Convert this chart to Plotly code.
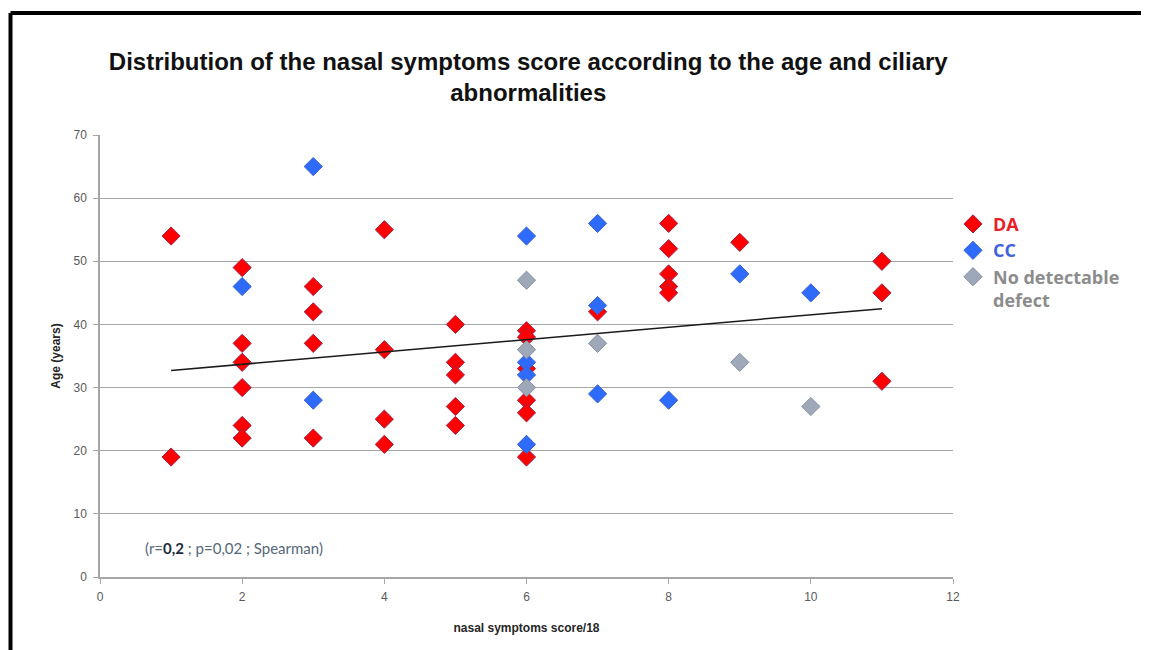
import plotly.graph_objects as go

# ---- data ----
da_score = [1, 1, 2, 2, 2, 2, 2, 2, 3, 3, 3, 3, 4, 4, 4, 4, 5, 5, 5, 5, 5,
            6, 6, 6, 6, 6, 6, 7, 8, 8, 8, 8, 8, 9, 11, 11, 11]
da_age = [54, 19, 49, 37, 34, 30, 24, 22, 46, 42, 37, 22, 55, 36, 25, 21, 40, 34, 32, 27, 24,
          39, 38, 33, 28, 26, 19, 42, 56, 52, 48, 46, 45, 53, 50, 45, 31]

cc_score = [2, 3, 3, 6, 6, 6, 6, 7, 7, 7, 8, 9, 10]
cc_age = [46, 65, 28, 54, 34, 32, 21, 56, 43, 29, 28, 48, 45]

nd_score = [6, 6, 6, 7, 9, 10]
nd_age = [47, 36, 30, 37, 34, 27]

trend_score = [1, 11]
trend_age = [32.7, 42.5]

x_ticks = [0, 2, 4, 6, 8, 10, 12]
y_ticks = [0, 10, 20, 30, 40, 50, 60, 70]

SANS = "Liberation Sans, Arial, sans-serif"
LEG = "Open Sans, sans-serif"

W, H = 1141, 642
L, T, PW, PH = 92, 127, 853, 442

fig = go.Figure()

fig.add_trace(go.Scatter(
    x=da_score, y=da_age, mode="markers",
    name='<span style="color:#E8202A"><b>DA</b></span>',
    marker=dict(symbol="diamond", size=14, color="#FF0000",
                line=dict(color="#9B2850", width=1)),
))
fig.add_trace(go.Scatter(
    x=cc_score, y=cc_age, mode="markers",
    name='<span style="color:#3F63D8"><b>CC</b></span>',
    marker=dict(symbol="diamond", size=14, color="#2F6BFA",
                line=dict(color="#3A62D0", width=1)),
))
fig.add_trace(go.Scatter(
    x=nd_score, y=nd_age, mode="markers",
    name='<span style="color:#8C8C8C"><b>No detectable<br>defect</b></span>',
    marker=dict(symbol="diamond", size=14, color="#9EA8B9",
                line=dict(color="#8590A2", width=1)),
))
fig.add_trace(go.Scatter(
    x=trend_score, y=trend_age, mode="lines",
    line=dict(color="#1A1A1A", width=1.5),
    showlegend=False, hoverinfo="skip",
))

fig.update_layout(
    width=W, height=H,
    margin=dict(l=L, r=W - L - PW, t=T, b=H - T - PH),
    paper_bgcolor="white", plot_bgcolor="white",
    title=dict(
        text="<b>Distribution of the nasal symptoms score according to the age and ciliary<br>abnormalities</b>",
        x=0.456, xanchor="center", xref="container",
        y=0.903, yanchor="top", yref="container",
        font=dict(family=SANS, size=24, color="#111111", lineposition="none"),
    ),
    legend=dict(
        x=1.0, xanchor="left", y=0.84, yanchor="top",
        font=dict(family=LEG, size=18),
        valign="top", itemwidth=30,
        tracegroupgap=0,
        bgcolor="rgba(0,0,0,0)",
    ),
    showlegend=True,
    xaxis=dict(
        range=[0, 12], tickvals=x_ticks, ticktext=[str(v) for v in x_ticks],
        showgrid=False, zeroline=False,
        showline=True, linecolor="#A6A6A6", linewidth=1.5,
        ticks="outside", ticklen=5, tickcolor="#A6A6A6",
        ticklabelstandoff=3,
        tickfont=dict(family=SANS, size=12, color="#595959"),
        title=dict(text="<b>nasal symptoms score/18</b>",
                   font=dict(family=SANS, size=12, color="#262626"),
                   standoff=20),
    ),
    yaxis=dict(
        range=[0, 70], tickvals=y_ticks, ticktext=[str(v) for v in y_ticks],
        showgrid=True, gridcolor="#A6A6A6", gridwidth=1.3, zeroline=False,
        showline=True, linecolor="#A6A6A6", linewidth=1.5,
        ticks="outside", ticklen=5, tickcolor="#A6A6A6",
        ticklabelstandoff=4,
        tickfont=dict(family=SANS, size=12, color="#595959"),
        title=dict(text="<b>Age (years)</b>",
                   font=dict(family=SANS, size=12, color="#262626"),
                   standoff=10),
    ),
    annotations=[dict(
        xref="paper", yref="paper", x=0.05, y=0.065, xanchor="left", yanchor="middle",
        text='(r=<b><span style="color:#1E2B3A">0,2</span></b> ; p=0,02 ; Spearman)',
        showarrow=False,
        font=dict(family="Lato, sans-serif", size=15, color="#56687A"),
    )],
    shapes=[
        dict(type="line", xref="paper", yref="paper",
             x0=(2.5 - L) / PW, x1=(W - L) / PW + 0.01,
             y0=(T + PH - 5) / PH, y1=(T + PH - 5) / PH,
             line=dict(color="black", width=4)),
        dict(type="line", xref="paper", yref="paper",
             x0=(2.5 - L) / PW, x1=(2.5 - L) / PW,
             y0=(T + PH - 5) / PH, y1=-0.3,
             line=dict(color="black", width=4)),
    ],
)

fig.write_html("out.html")
